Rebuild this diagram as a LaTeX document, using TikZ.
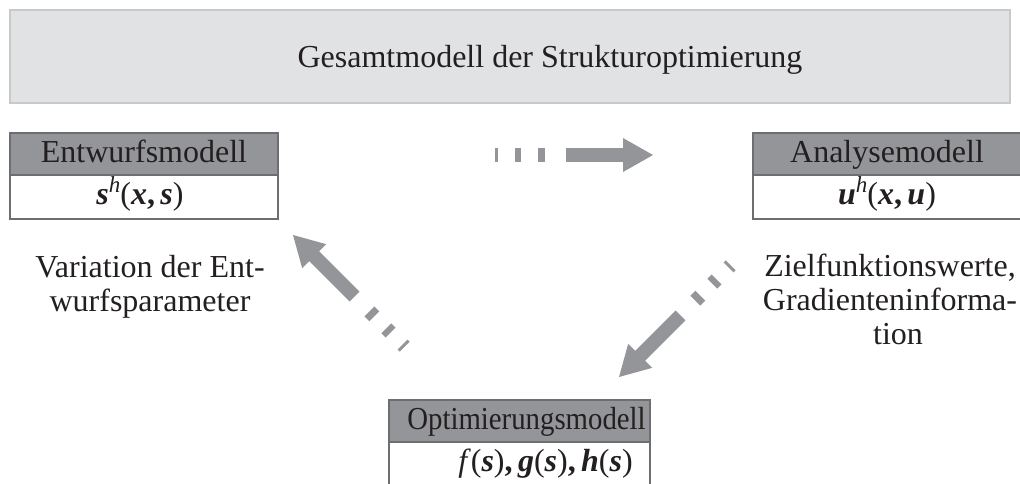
\documentclass[tikz,border=0pt]{standalone}
\usepackage{fontspec}
\setmainfont{Liberation Serif}
\newcommand{\bi}[1]{\textbf{\textit{#1}}}
\newcommand{\suph}{\raisebox{6pt}{\fontsize{11.5pt}{11.5pt}\selectfont\textit{h}}}
\newcommand{\bcomma}{\textbf{,}\kern2.7pt}
\definecolor{topfill}{HTML}{E1E2E4}
\definecolor{topline}{HTML}{C8C9CB}
\definecolor{headfill}{HTML}{939598}
\definecolor{boxline}{HTML}{6D6E71}
\definecolor{arrowgray}{HTML}{939598}
\definecolor{txt}{HTML}{231F20}
\tikzset{
  every node/.style={font=\fontsize{16pt}{17pt}\selectfont, text=txt, inner sep=0pt, outer sep=0pt},
  headbox/.style={draw=boxline, line width=0.75pt, fill=headfill, minimum width=134pt, minimum height=21pt, anchor=north west, text height=0.8em, text depth=0pt},
  bodybox/.style={draw=boxline, line width=0.75pt, fill=white, minimum width=134pt, minimum height=22pt, anchor=north west, text height=0.72em, text depth=0pt},
  fadearrow/.pic={
    \fill[arrowgray] (-87,-7) rectangle (-29,7);
    \fill[arrowgray] (0,0) -- (-30,-17) -- (-30,17) -- cycle;
    \fill[arrowgray] (-115,-7) rectangle (-108,7);
    \fill[arrowgray] (-138,-7) rectangle (-132,7);
    \fill[arrowgray] (-158,-7) rectangle (-155,7);
  }
}
\begin{document}
\begin{tikzpicture}[x=0.5pt,y=-0.5pt]
\useasboundingbox (0,0) rectangle (1020,483);
% top box
\node[draw=topline, fill=topfill, line width=0.75pt, minimum width=500pt, minimum height=46.5pt, anchor=north west] (gesamt) at (10,10) {};
\node[anchor=base] (title) at (550,67) {Gesamtmodell der Strukturoptimierung};
% Entwurfsmodell
\node[bodybox] (entb) at (10,175) {\bi{s}\suph(\bi{x}\bcomma\bi{s})\hspace*{4pt}};
\node[headbox] (enth) at (10,133) {Entwurfsmodell};
% Analysemodell
\node[bodybox] (anab) at (753,175) {\bi{u}\suph(\bi{x}\bcomma\bi{u})};
\node[headbox] (anah) at (753,133) {Analysemodell};
% Optimierungsmodell
\node[bodybox, minimum width=130.5pt] (optb) at (389,442) {\hspace*{26pt}\textit{f}(\bi{s})\bcomma\bi{g}(\bi{s})\bcomma\bi{h}(\bi{s})};
\node[headbox, minimum width=130.5pt] (opth) at (389,400) {\hspace*{7pt}\scalebox{0.9}[1]{Optimierungsmodell}};
% texts
\node[align=center] (vartext) at (150,287) {Variation der Ent-\\wurfsparameter};
\node[align=center] (zieltext) at (890,299) {Zielfunktionswerte,\\Gradienteninforma-\\\hspace*{8pt}tion};
% arrows
\pic at (653,155) {fadearrow};
\pic[rotate=135] at (293,235) {fadearrow};
\pic[rotate=225] at (619,377) {fadearrow};
\end{tikzpicture}
\end{document}
